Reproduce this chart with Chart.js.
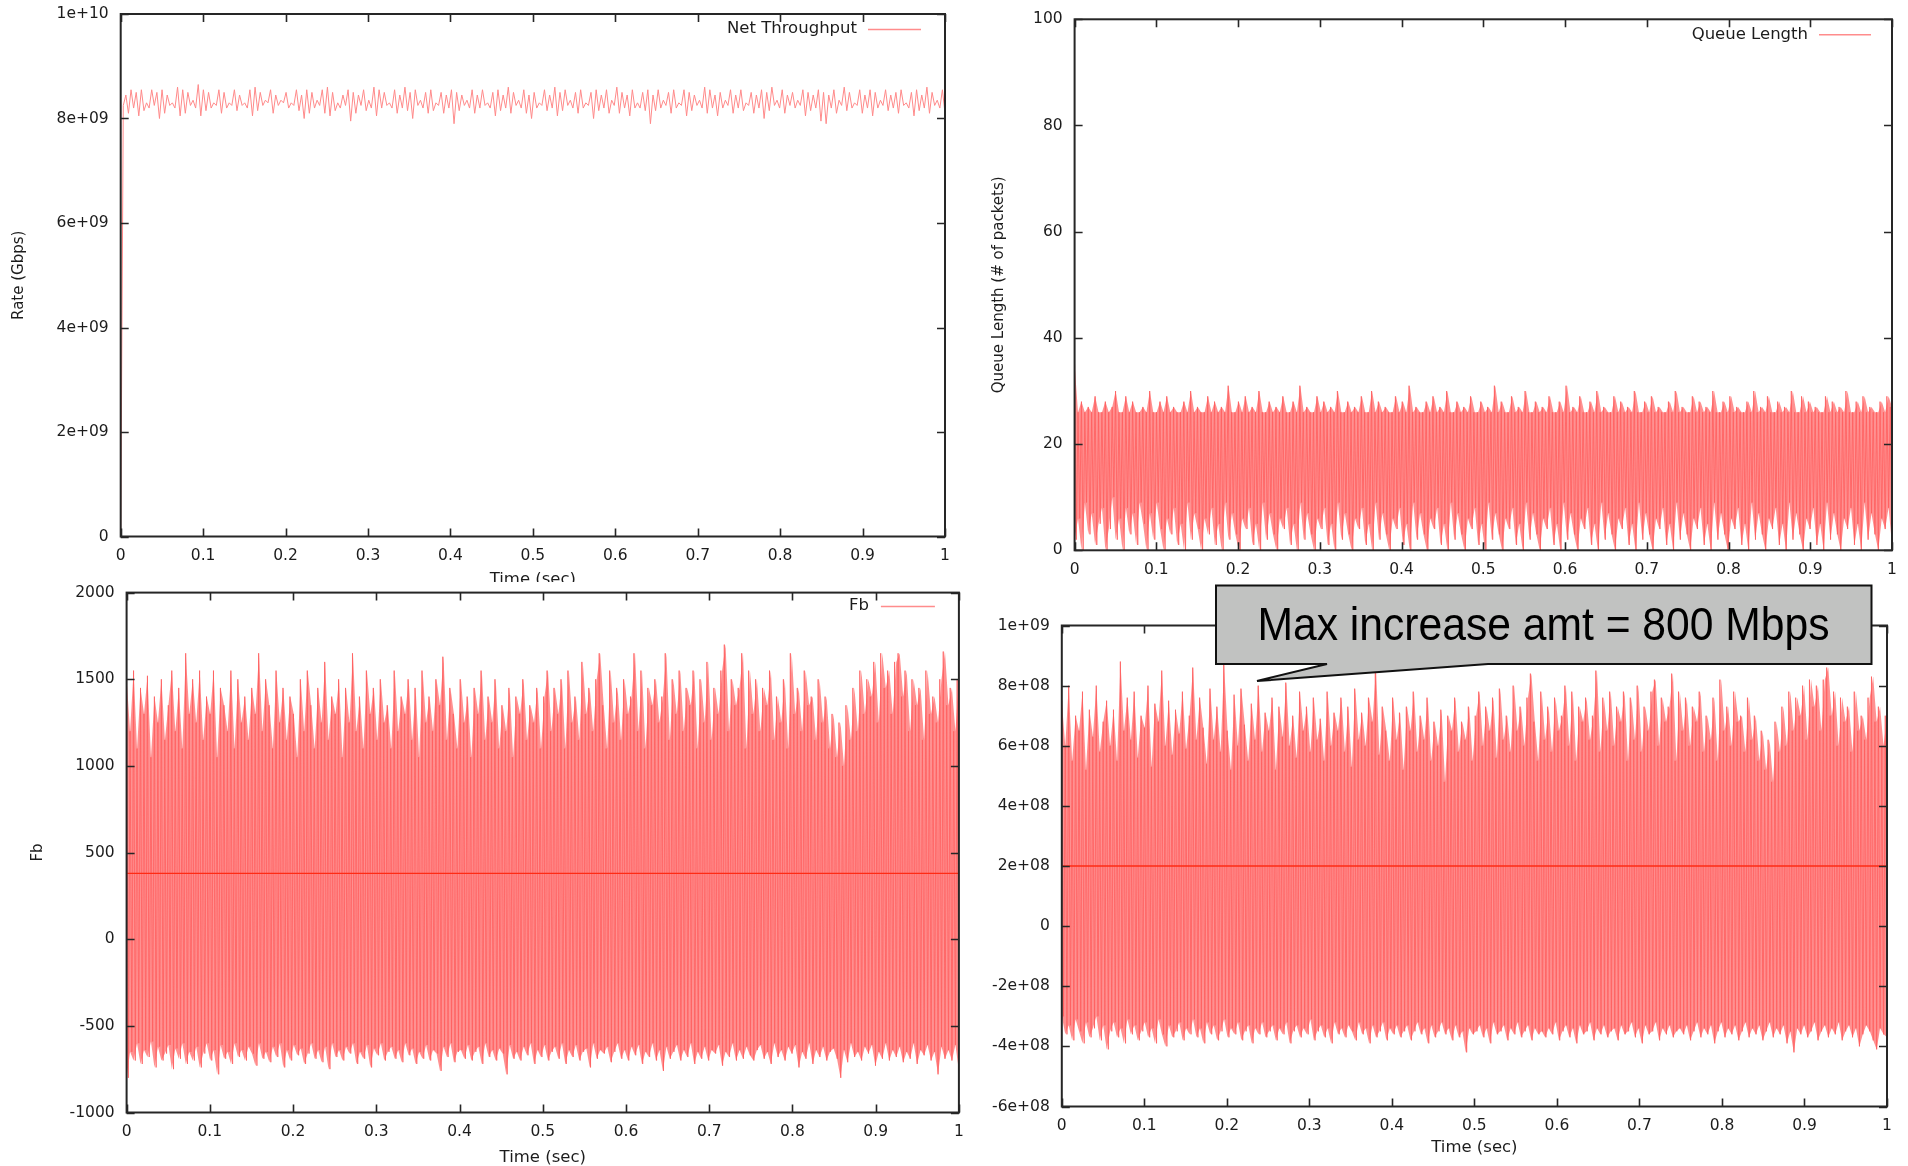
<!DOCTYPE html>
<html><head><meta charset="utf-8">
<script src="https://cdn.jsdelivr.net/npm/chart.js@4/dist/chart.umd.min.js"></script>
<style>
html,body{margin:0;padding:0;background:#fff;}
#page{position:relative;width:1908px;height:1166px;overflow:hidden;background:#fff;}
canvas{position:absolute;background:#fff;}
#callout{position:absolute;left:0;top:0;pointer-events:none;}
</style></head><body><div id="page">
<canvas id="cA" width="960" height="592" style="left:0px;top:0px"></canvas>
<canvas id="cB" width="948" height="592" style="left:960px;top:0px"></canvas>
<canvas id="cC" width="975" height="584" style="left:0px;top:582px"></canvas>
<canvas id="cD" width="933" height="576" style="left:975px;top:590px"></canvas>
<svg id="callout" width="1908" height="1166">
<path d="M1216,585.5 H1871.5 V664 H1488 L1257,681 L1327,664 H1216 Z" fill="#c1c2c1" stroke="#111" stroke-width="2" stroke-linejoin="miter"/>
<text x="1543.5" y="640" font-family="'Liberation Sans', Arial, sans-serif" font-size="46" text-anchor="middle" textLength="572" lengthAdjust="spacingAndGlyphs" fill="#000">Max increase amt = 800 Mbps</text>
</svg>
</div>
<script>
// ---------------- DATA ----------------
const xTickValues = [0,0.1,0.2,0.3,0.4,0.5,0.6,0.7,0.8,0.9,1];
const xTickLabels = ['0','0.1','0.2','0.3','0.4','0.5','0.6','0.7','0.8','0.9','1'];
const xTitle = 'Time (sec)';

// Panel A: Net Throughput (Gbps, evenly sampled over 0..1 s)
const throughputLabel = 'Net Throughput';
const throughputGbps = [
0,8.25,8.45,8.1,8.55,8.2,8.5,8.05,8.55,8.15,8.3,8.2,8.55,8.25,8.5,8.0,8.55,8.1,8.45,8.25,
8.3,8.2,8.6,8.05,8.55,8.1,8.5,8.25,8.35,8.2,8.65,8.05,8.55,8.15,8.5,8.2,8.3,8.25,8.55,8.1,
8.5,8.2,8.3,8.25,8.55,8.15,8.45,8.25,8.3,8.2,8.55,8.05,8.6,8.15,8.5,8.25,8.35,8.3,8.55,8.1,
8.45,8.25,8.35,8.3,8.5,8.2,8.3,8.25,8.55,8.15,8.45,8.0,8.55,8.1,8.5,8.2,8.35,8.25,8.55,8.1,
8.6,8.05,8.5,8.15,8.3,8.2,8.45,8.25,8.55,7.95,8.5,8.1,8.45,8.25,8.55,8.15,8.35,8.2,8.6,8.05,
8.55,8.2,8.5,8.25,8.3,8.2,8.55,8.1,8.45,8.2,8.6,8.15,8.5,8.0,8.55,8.25,8.35,8.2,8.5,8.1,
8.55,8.15,8.3,8.25,8.5,8.1,8.45,8.2,8.55,7.9,8.5,8.15,8.45,8.25,8.35,8.2,8.55,8.1,8.45,8.2,
8.55,8.25,8.3,8.2,8.5,8.05,8.55,8.15,8.45,8.2,8.6,8.1,8.5,8.25,8.35,8.2,8.55,8.1,8.45,8.0,
8.5,8.2,8.3,8.25,8.55,8.15,8.45,8.2,8.6,8.05,8.5,8.15,8.55,8.25,8.35,8.2,8.5,8.1,8.55,8.2,
8.3,8.25,8.5,8.0,8.55,8.15,8.45,8.2,8.55,8.1,8.35,8.25,8.6,8.1,8.5,8.2,8.45,8.05,8.55,8.2,
8.3,8.2,8.5,8.15,8.55,7.9,8.45,8.15,8.55,8.2,8.35,8.25,8.5,8.1,8.55,8.2,8.3,8.25,8.55,8.05,
8.5,8.15,8.45,8.25,8.35,8.2,8.6,8.1,8.55,8.2,8.45,8.05,8.5,8.2,8.35,8.25,8.55,8.1,8.45,8.2,
8.55,8.15,8.3,8.25,8.5,8.1,8.45,8.2,8.55,8.0,8.5,8.15,8.6,8.25,8.35,8.2,8.55,8.1,8.45,8.25,
8.5,8.2,8.35,8.25,8.55,8.05,8.5,8.15,8.45,8.2,8.55,7.95,8.5,7.9,8.45,8.2,8.55,8.1,8.35,8.25,
8.6,8.15,8.5,8.2,8.3,8.25,8.55,8.1,8.45,8.2,8.55,8.05,8.5,8.2,8.35,8.25,8.55,8.15,8.45,8.2,
8.5,8.1,8.55,8.25,8.3,8.2,8.5,8.05,8.55,8.15,8.45,8.2,8.6,8.1,8.5,8.25,8.35,8.2,8.55,8.1
];
const yTicksA = [0,2e9,4e9,6e9,8e9,1e10];
const yLabelsA = ['0','2e+09','4e+09','6e+09','8e+09','1e+10'];
const yTitleA = 'Rate (Gbps)';

// Panel B: Queue Length (packets) - alternating peaks / troughs
const queueLabel = 'Queue Length';
const queuePeaks = [
35,26,28,26,27,26,29,26,26,28,26,27,30,26,26,29,26,28,26,26,
27,26,30,26,26,28,26,29,26,27,26,26,28,26,30,26,27,26,26,29,
26,28,26,27,26,31,26,26,28,26,29,26,27,26,30,26,26,28,26,27,
26,29,26,26,28,26,31,26,27,26,26,29,26,28,26,27,26,30,26,26,
28,26,27,26,29,26,26,30,26,28,26,27,26,26,29,26,28,26,31,26,
27,26,26,28,26,29,26,27,26,30,26,26,28,26,27,26,29,26,26,28,
26,27,26,31,26,28,26,26,29,26,27,26,30,26,26,28,26,27,26,29,
26,26,28,26,31,26,27,26,29,26,26,28,26,30,26,27,26,26,29,26,
28,26,27,26,30,26,26,28,26,29,26,27,26,26,28,26,30,26,27,26,
26,29,26,28,26,27,26,30,26,26,28,26,29,26,27,26,26,28,26,30,
26,27,26,29,26,26,28,26,27,26,30,26,26,29,26,28,26,27,26,26,
29,26,28,26,27,26,30,26,26,28,26,29,26,27,26,26,28,26,29,27
];
const queueTroughs = [
2,6,0,9,3,7,1,5,8,0,4,10,2,6,0,8,3,7,1,9,
5,0,7,2,9,4,0,6,3,8,1,5,0,9,2,7,4,0,6,3,
8,1,5,0,9,2,7,3,0,6,4,8,1,5,0,9,2,7,3,0,
6,4,8,1,5,0,9,2,7,3,0,6,4,8,1,5,0,9,2,7,
3,0,6,4,8,1,5,0,9,2,7,3,0,6,4,8,1,5,0,9,
2,7,3,0,6,4,8,1,5,0,9,2,7,3,0,6,4,8,1,5,
0,9,2,7,3,0,6,4,8,1,5,0,9,2,7,3,0,6,4,8,
1,5,0,9,2,7,3,0,6,4,8,1,5,0,9,2,7,3,0,6,
4,8,1,5,0,9,2,7,3,0,6,4,8,1,5,0,9,2,7,3,
0,6,4,8,1,5,0,9,2,7,3,0,6,4,8,1,5,0,9,2,
7,3,0,6,4,8,1,5,0,9,2,7,3,0,6,4,8,1,5,0,
9,2,7,3,0,6,4,8,1,5,0,9,2,7,3,0,6,4,8,1
];
const yTicksB = [0,20,40,60,80,100];
const yLabelsB = ['0','20','40','60','80','100'];
const yTitleB = 'Queue Length (# of packets)';

// Panel C: Fb
const fbLabel = 'Fb';
const fbPeaks = [
1500,1200,1550,1100,1450,1300,1520,1050,1400,1250,1500,1150,1350,1550,1200,1450,1100,1650,1300,1500,
1250,1550,1150,1400,1300,1550,1050,1450,1350,1200,1550,1100,1500,1250,1400,1150,1450,1300,1650,1200,
1500,1350,1100,1550,1250,1450,1150,1400,1300,1050,1500,1200,1550,1350,1100,1450,1250,1600,1150,1400,
1300,1500,1050,1450,1250,1650,1200,1400,1100,1550,1300,1450,1150,1500,1250,1350,1100,1550,1200,1400,
1300,1500,1150,1450,1050,1550,1250,1400,1200,1500,1350,1630,1150,1450,1300,1100,1500,1250,1400,1050,
1450,1300,1550,1150,1400,1250,1500,1100,1350,1200,1450,1050,1400,1300,1500,1150,1350,1250,1450,1100,
1400,1550,1200,1450,1300,1500,1100,1550,1250,1400,1150,1600,1300,1450,1200,1500,1650,1350,1100,1550,
1250,1450,1150,1500,1300,1400,1650,1200,1550,1100,1450,1350,1500,1250,1400,1650,1150,1500,1300,1550,
1200,1450,1350,1550,1100,1500,1250,1600,1150,1450,1300,1550,1700,1200,1500,1350,1450,1650,1100,1550,
1300,1500,1200,1450,1350,1550,1150,1400,1250,1500,1100,1650,1300,1450,1200,1550,1350,1400,1150,1500,
1250,1400,1100,1300,1050,1250,1000,1350,1150,1450,1200,1550,1300,1500,1400,1600,1250,1650,1450,1550,
1300,1600,1650,1400,1550,1200,1500,1350,1450,1150,1550,1300,1400,1250,1500,1660,1350,1450,1200,1500
];
const fbTroughs = [
-800,-650,-700,-600,-720,-640,-680,-590,-740,-620,-700,-660,-610,-750,-630,-690,-600,-720,-650,-700,
-620,-740,-660,-600,-700,-640,-780,-610,-690,-650,-720,-600,-680,-640,-700,-620,-660,-730,-600,-690,
-650,-710,-620,-680,-600,-740,-640,-700,-610,-670,-630,-720,-660,-600,-690,-640,-710,-620,-750,-600,
-680,-640,-700,-620,-660,-600,-720,-650,-690,-610,-740,-630,-670,-600,-700,-650,-620,-690,-640,-710,
-600,-670,-630,-720,-650,-690,-610,-700,-640,-660,-760,-620,-680,-600,-710,-650,-640,-690,-610,-700,
-650,-620,-720,-600,-680,-640,-700,-630,-660,-780,-610,-690,-650,-700,-620,-670,-600,-720,-640,-680,
-610,-700,-650,-620,-690,-600,-720,-640,-680,-610,-700,-650,-630,-740,-600,-690,-640,-660,-620,-710,
-650,-600,-690,-640,-700,-620,-670,-610,-720,-650,-680,-600,-700,-640,-760,-620,-690,-650,-610,-700,
-640,-680,-600,-720,-650,-690,-620,-700,-640,-660,-610,-730,-650,-680,-600,-700,-640,-690,-620,-670,
-700,-640,-610,-690,-650,-720,-600,-680,-640,-700,-620,-660,-610,-740,-650,-690,-600,-720,-640,-680,
-620,-700,-650,-630,-690,-800,-640,-710,-600,-680,-650,-700,-620,-660,-610,-730,-650,-690,-600,-700,
-640,-680,-620,-710,-650,-690,-600,-720,-640,-670,-610,-700,-650,-780,-620,-690,-640,-700,-610,-760
];
const fbLevelLine = [380,380];   // flat darker line at t=0 and t=1
const yTicksC = [-1000,-500,0,500,1000,1500,2000];
const yLabelsC = ['-1000','-500','0','500','1000','1500','2000'];
const yTitleC = 'Fb';

// Panel D: rate increase (units of 1e8 bps)
const incPeaks = [
7.5,6.0,8.0,5.5,7.0,6.5,7.8,5.2,7.2,6.3,8.0,5.8,6.8,7.5,6.0,7.2,5.5,8.8,6.5,7.6,
6.2,7.8,5.6,7.0,6.6,8.0,5.3,7.4,6.8,8.5,6.0,7.5,5.7,7.2,6.4,7.8,5.9,7.0,8.6,6.2,
7.6,6.6,5.4,7.9,6.2,7.3,5.8,8.7,6.5,5.2,7.7,6.0,7.9,6.7,5.5,7.4,6.2,8.0,5.8,7.1,
6.5,7.6,5.2,7.3,6.3,8.1,6.0,7.0,5.6,7.8,6.5,7.3,5.8,7.6,6.2,6.9,5.5,7.8,6.0,7.1,
6.5,7.6,5.8,7.3,5.3,7.9,6.2,7.1,6.0,7.6,6.8,8.6,5.7,7.3,6.5,5.5,7.6,6.2,7.1,5.2,
7.3,6.5,7.8,5.8,7.0,6.2,7.6,5.5,6.8,6.0,7.2,4.8,7.0,6.5,7.6,5.8,6.8,6.2,7.3,5.5,
7.0,7.8,6.0,7.3,6.5,7.6,5.6,7.9,6.2,7.0,5.8,8.0,6.5,7.3,6.0,7.6,8.4,6.8,5.5,7.8,
6.2,7.3,5.8,7.6,6.5,7.0,8.0,6.0,7.8,5.5,7.3,6.8,7.6,6.2,7.0,8.5,5.8,7.6,6.5,7.8,
6.0,7.3,6.8,7.8,5.5,7.6,6.2,8.0,5.8,7.3,6.5,7.8,8.2,6.0,7.6,6.8,7.3,8.4,5.5,7.8,
6.5,7.6,6.0,7.3,6.8,7.8,5.8,7.0,6.2,7.6,5.5,8.2,6.5,7.3,6.0,7.8,6.8,7.0,5.8,7.6,
6.2,7.0,5.5,6.5,5.2,6.2,4.8,6.8,5.8,7.3,6.0,7.8,6.5,7.6,7.0,8.0,6.2,8.2,7.3,8.0,
6.5,8.2,8.6,7.0,7.8,6.0,7.6,6.8,7.3,5.8,7.8,6.5,7.0,6.2,7.6,8.3,6.8,7.3,6.0,7.0
];
const incTroughs = [
-3.0,-3.6,-3.3,-3.8,-3.1,-3.5,-3.9,-3.2,-3.7,-3.4,-3.0,-3.8,-3.3,-4.1,-3.5,-3.2,-3.7,-3.4,-3.9,-3.1,
-3.6,-3.3,-3.8,-3.5,-3.2,-3.7,-3.4,-3.9,-3.1,-3.6,-4.0,-3.3,-3.7,-3.5,-3.2,-3.8,-3.4,-3.6,-3.1,-3.7,
-3.4,-3.9,-3.2,-3.6,-3.3,-3.8,-3.5,-3.1,-3.7,-3.4,-3.6,-3.2,-3.8,-3.5,-3.3,-3.9,-3.4,-3.6,-3.2,-3.7,
-3.5,-3.3,-3.8,-3.4,-3.6,-3.2,-3.9,-3.5,-3.3,-3.7,-3.4,-3.6,-3.1,-3.8,-3.5,-3.3,-3.7,-3.4,-3.9,-3.2,
-3.6,-3.4,-3.7,-3.3,-3.5,-3.8,-3.2,-3.6,-3.4,-3.9,-3.3,-3.7,-3.5,-3.2,-3.8,-3.4,-3.6,-3.3,-3.7,-3.5,
-3.3,-3.8,-3.5,-3.2,-3.6,-3.4,-3.9,-3.3,-3.7,-3.5,-3.2,-3.6,-3.4,-3.8,-3.3,-3.7,-3.5,-4.2,-3.4,-3.6,
-3.5,-3.3,-3.7,-3.4,-3.9,-3.2,-3.6,-3.5,-3.3,-3.8,-3.4,-3.6,-3.2,-3.7,-3.5,-3.3,-3.8,-3.4,-3.6,-3.5,
-3.7,-3.4,-3.6,-3.2,-3.8,-3.5,-3.3,-3.7,-3.4,-3.9,-3.3,-3.6,-3.5,-3.2,-3.8,-3.4,-3.6,-3.3,-3.7,-3.5,
-3.4,-3.8,-3.3,-3.6,-3.5,-3.2,-3.7,-3.4,-3.9,-3.3,-3.6,-3.5,-3.2,-3.8,-3.4,-3.6,-3.3,-3.7,-3.5,-3.4,
-3.6,-3.3,-3.8,-3.5,-3.2,-3.7,-3.4,-3.6,-3.3,-3.9,-3.5,-3.2,-3.7,-3.4,-3.6,-3.3,-3.8,-3.5,-3.2,-3.7,
-3.4,-3.6,-3.3,-3.8,-3.5,-3.2,-3.7,-3.4,-3.6,-3.3,-3.9,-3.5,-4.2,-3.4,-3.6,-3.3,-3.7,-3.5,-3.2,-3.8,
-3.5,-3.3,-3.7,-3.4,-3.6,-3.2,-3.8,-3.5,-3.3,-3.7,-3.4,-4.0,-3.6,-3.3,-3.5,-3.8,-4.1,-3.4,-3.6,-3.7
];
const incLevelLine = [2,2];   // flat darker line (x1e8)
const yTicksD = [-6e8,-4e8,-2e8,0,2e8,4e8,6e8,8e8,1e9];
const yLabelsD = ['-6e+08','-4e+08','-2e+08','0','2e+08','4e+08','6e+08','8e+08','1e+09'];

// ---------------- HELPERS ----------------
function timeSeries(values, scale) {
  const n = values.length;
  return values.map((v, i) => ({x: i / (n - 1), y: v * (scale || 1)}));
}
function interleave(a, b) {
  const out = [];
  for (let i = 0; i < a.length; i++) { out.push(a[i], b[i]); }
  return out;
}

const FONT = '"DejaVu Sans", "Liberation Sans", sans-serif';
const TXT = '#1c1c1c';
Chart.defaults.font.family = FONT;
Chart.defaults.font.size = 15.5;
Chart.defaults.color = TXT;

const framePlugin = {
  id: 'gFrame',
  afterDatasetsDraw(chart, args, opts) {
    const {ctx, chartArea: a, scales} = chart;
    ctx.save();
    ctx.strokeStyle = '#262626';
    ctx.lineWidth = 1.6;
    const tl = 8;
    ctx.beginPath();
    scales.x.ticks.forEach(t => {
      const p = Math.round(scales.x.getPixelForValue(t.value)) + 0.5;
      ctx.moveTo(p, a.bottom); ctx.lineTo(p, a.bottom - tl);
      ctx.moveTo(p, a.top); ctx.lineTo(p, a.top + tl);
    });
    scales.y.ticks.forEach(t => {
      const p = Math.round(scales.y.getPixelForValue(t.value)) + 0.5;
      ctx.moveTo(a.left, p); ctx.lineTo(a.left + tl, p);
      ctx.moveTo(a.right, p); ctx.lineTo(a.right - tl, p);
    });
    ctx.stroke();
    ctx.lineWidth = 2;
    ctx.strokeRect(a.left, a.top, a.right - a.left, a.bottom - a.top);
    if (opts && opts.text) {
      ctx.font = '16.5px ' + FONT;
      ctx.fillStyle = TXT;
      ctx.textAlign = 'right';
      ctx.textBaseline = 'middle';
      const y = a.top + opts.dy;
      ctx.fillText(opts.text, a.right - opts.textRight, y);
      ctx.strokeStyle = opts.color;
      ctx.lineWidth = 1.5;
      ctx.beginPath();
      ctx.moveTo(a.right - opts.lineFrom, y + 0.5);
      ctx.lineTo(a.right - opts.lineTo, y + 0.5);
      ctx.stroke();
    }
    ctx.restore();
  }
};

function makeChart(id, cfg) {
  const canvas = document.getElementById(id);
  const offX = canvas.offsetLeft, offY = canvas.offsetTop;
  const chart = new Chart(canvas, {
    type: 'line',
    data: {datasets: cfg.datasets},
    options: {
      responsive: false, animation: false, devicePixelRatio: 1,
      events: [],
      layout: {padding: {left: 0, top: 0, right: 0, bottom: 0}},
      elements: {point: {radius: 0}, line: {tension: 0}},
      plugins: {legend: {display: false}, tooltip: {enabled: false}, gFrame: cfg.legend || {}},
      scales: {
        x: {
          type: 'linear', min: 0, max: 1,
          grid: {display: false, drawTicks: false}, border: {display: false},
          afterBuildTicks: s => { s.ticks = xTickValues.map(v => ({value: v})); },
          ticks: {callback: (v, i) => xTickLabels[i], padding: 10.5, maxRotation: 0, autoSkip: false, color: TXT},
          title: {display: !!cfg.xTitle, text: cfg.xTitle || '', padding: 0, color: TXT, font: {size: 16.5}},
          afterFit: s => { s.height = cfg.xH; s.paddingLeft = 0; s.paddingRight = 0; }
        },
        y: {
          type: 'linear', min: cfg.yMin, max: cfg.yMax,
          grid: {display: false, drawTicks: false}, border: {display: false},
          afterBuildTicks: s => { s.ticks = cfg.yTicks.map(v => ({value: v})); },
          ticks: {callback: (v, i) => cfg.yLabels[i], padding: 12, autoSkip: false, color: TXT},
          title: {display: !!cfg.yTitle, text: cfg.yTitle || '', padding: 0, color: TXT, font: {size: 15}},
          afterFit: s => { s.width = cfg.yW; s.paddingTop = 0; s.paddingBottom = 0; }
        }
      }
    },
    plugins: [framePlugin]
  });
  const t = cfg.area;
  for (let k = 0; k < 4; k++) {
    const ca = chart.chartArea;
    const p = chart.options.layout.padding;
    p.left += (t.l - offX) - ca.left;
    p.top += (t.t - offY) - ca.top;
    p.right += ca.right - (t.r - offX);
    p.bottom += ca.bottom - (t.b - offY);
    chart.update('none');
  }
  return chart;
}

const DENSE = 'rgba(255,95,95,0.8)';
const BAND = 'rgba(255,98,98,0.7)';
const LEVEL = '#ff2b14';
const CLEAR = 'rgba(0,0,0,0)';

// dense signal = zigzag line between alternating peaks/troughs, plus the filled
// band those samples sweep out (peak envelope filled down to trough envelope)
function denseSets(label, peaks, troughs, scale, level) {
  const sets = [];
  if (level) sets.push({label: 'level', data: timeSeries(level, scale), borderColor: LEVEL, borderWidth: 1.4, fill: false, order: 0});
  sets.push({label: label, data: timeSeries(interleave(peaks, troughs), scale), borderColor: DENSE, borderWidth: 1.0, fill: false, order: 1});
  sets.push({label: 'upper', data: timeSeries(peaks, scale), borderColor: CLEAR, borderWidth: 0.01, backgroundColor: BAND, fill: '+1', order: 2});
  sets.push({label: 'lower', data: timeSeries(troughs, scale), borderColor: CLEAR, borderWidth: 0.01, fill: false, order: 3});
  return sets;
}

makeChart('cA', {
  area: {l: 120.7, t: 14, r: 945, b: 536.5},
  yMin: 0, yMax: 1e10, yTicks: yTicksA, yLabels: yLabelsA, yTitle: yTitleA,
  xTitle: xTitle, xH: 52.8, yW: 110.2,
  legend: {text: throughputLabel, textRight: 88, lineFrom: 77, lineTo: 24, dy: 15, color: '#ff8c8c'},
  datasets: [{label: throughputLabel, data: timeSeries(throughputGbps, 1e9), borderColor: '#ff8a8a', borderWidth: 1.0, fill: false}]
});

makeChart('cB', {
  area: {l: 1074.6, t: 19.3, r: 1892, b: 550.3},
  yMin: 0, yMax: 100, yTicks: yTicksB, yLabels: yLabelsB, yTitle: yTitleB,
  xTitle: '', xH: 30, yW: 84.6,
  legend: {text: queueLabel, textRight: 84, lineFrom: 73, lineTo: 21, dy: 15, color: '#ff8c8c'},
  datasets: denseSets(queueLabel, queuePeaks, queueTroughs, 1, null)
});

makeChart('cC', {
  area: {l: 126.6, t: 592.6, r: 958.9, b: 1112.5},
  yMin: -1000, yMax: 2000, yTicks: yTicksC, yLabels: yLabelsC, yTitle: yTitleC,
  xTitle: xTitle, xH: 54.8, yW: 97.9,
  legend: {text: fbLabel, textRight: 90, lineFrom: 78, lineTo: 24, dy: 13.5, color: '#ff8c8c'},
  datasets: denseSets(fbLabel, fbPeaks, fbTroughs, 1, fbLevelLine)
});

makeChart('cD', {
  area: {l: 1061.8, t: 625.5, r: 1887, b: 1106.5},
  yMin: -6e8, yMax: 1e9, yTicks: yTicksD, yLabels: yLabelsD, yTitle: '',
  xTitle: xTitle, xH: 50.8, yW: 75,
  datasets: denseSets('increase', incPeaks, incTroughs, 1e8, incLevelLine)
});
</script>
</body></html>
